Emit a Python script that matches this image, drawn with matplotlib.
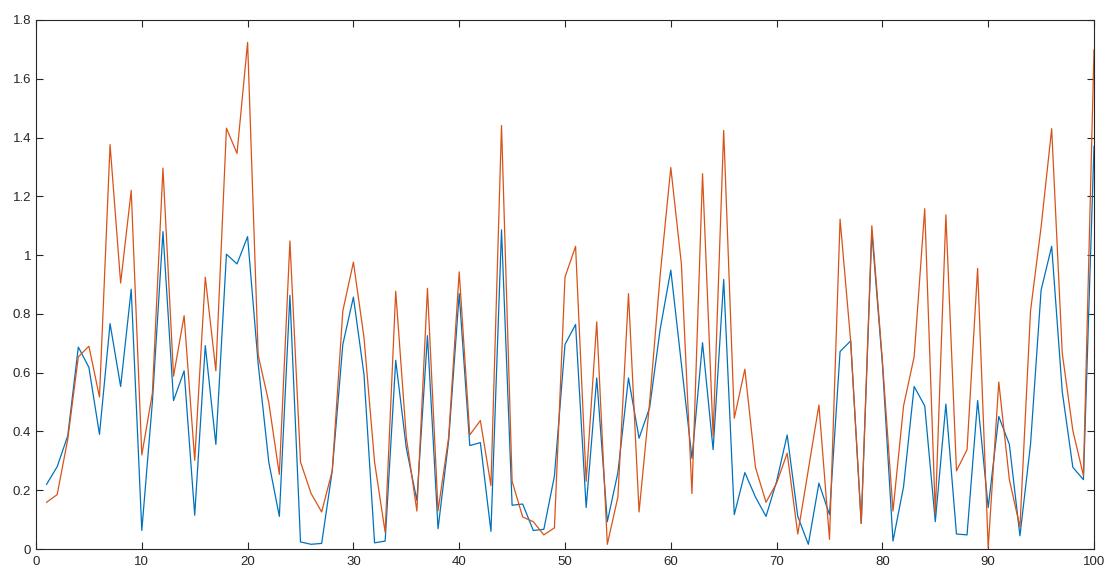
import numpy as np
from matplotlib import pyplot as plt
from matplotlib.ticker import FuncFormatter

plt.rcParams['font.family'] = ['Liberation Sans', 'DejaVu Sans']

# sample index 1..100
x = np.arange(1, 101)

blue = [0.22, 0.28, 0.385, 0.687, 0.618, 0.39, 0.767, 0.553, 0.884, 0.063,
        0.50, 1.08, 0.505, 0.606, 0.115, 0.692, 0.356, 1.003, 0.970, 1.063,
        0.63, 0.296, 0.111, 0.863, 0.024, 0.016, 0.019, 0.266, 0.696, 0.857,
        0.594, 0.021, 0.027, 0.642, 0.344, 0.165, 0.726, 0.069, 0.368, 0.869,
        0.352, 0.362, 0.06, 1.086, 0.149, 0.153, 0.063, 0.067, 0.248, 0.696,
        0.764, 0.141, 0.582, 0.093, 0.26, 0.582, 0.377, 0.481, 0.749, 0.949,
        0.63, 0.308, 0.702, 0.338, 0.917, 0.117, 0.26, 0.177, 0.111, 0.23,
        0.388, 0.111, 0.016, 0.224, 0.117, 0.672, 0.708, 0.087, 1.08, 0.63,
        0.027, 0.212, 0.553, 0.487, 0.093, 0.493, 0.051, 0.048, 0.505, 0.141,
        0.451, 0.356, 0.045, 0.356, 0.881, 1.03, 0.535, 0.278, 0.236, 1.37]

orange = [0.159, 0.185, 0.373, 0.654, 0.69, 0.517, 1.376, 0.905, 1.22, 0.32,
          0.53, 1.296, 0.588, 0.794, 0.302, 0.925, 0.606, 1.432, 1.346, 1.724,
          0.66, 0.499, 0.254, 1.048, 0.296, 0.189, 0.126, 0.266, 0.81, 0.976,
          0.72, 0.296, 0.057, 0.877, 0.38, 0.129, 0.887, 0.13, 0.379, 0.943,
          0.388, 0.437, 0.216, 1.441, 0.23, 0.109, 0.093, 0.048, 0.072, 0.925,
          1.03, 0.23, 0.773, 0.016, 0.177, 0.869, 0.126, 0.499, 0.934, 1.298,
          0.97, 0.189, 1.277, 0.385, 1.424, 0.445, 0.612, 0.278, 0.159, 0.224,
          0.326, 0.051, 0.27, 0.49, 0.033, 1.122, 0.708, 0.087, 1.10, 0.64,
          0.129, 0.487, 0.654, 1.158, 0.12, 1.137, 0.266, 0.338, 0.955, 0.004,
          0.568, 0.236, 0.075, 0.81, 1.096, 1.43, 0.666, 0.403, 0.25, 1.698]

fig = plt.figure(figsize=(11.18, 5.82), dpi=100)
ax = fig.add_axes([36 / 1118, 33 / 582, 1058 / 1118, 529 / 582])

ax.plot(x, blue, color='#0072BD', linewidth=0.9)
ax.plot(x, orange, color='#D95319', linewidth=0.9)

ax.set_xlim(0, 100)
ax.set_ylim(0, 1.8)
ax.set_xticks(np.arange(0, 101, 10))
ax.set_yticks(np.arange(0, 1.81, 0.2))
ax.yaxis.set_major_formatter(FuncFormatter(lambda v, p: '%g' % round(v, 1)))

ax.tick_params(direction='in', top=True, right=True, length=5, width=0.8,
               labelsize=9.5, labelcolor='#262626', color='#262626')
ax.tick_params(axis='x', pad=5)
for s in ax.spines.values():
    s.set_color('#262626')
    s.set_linewidth(0.8)

fig.savefig('out.png', dpi=100)
